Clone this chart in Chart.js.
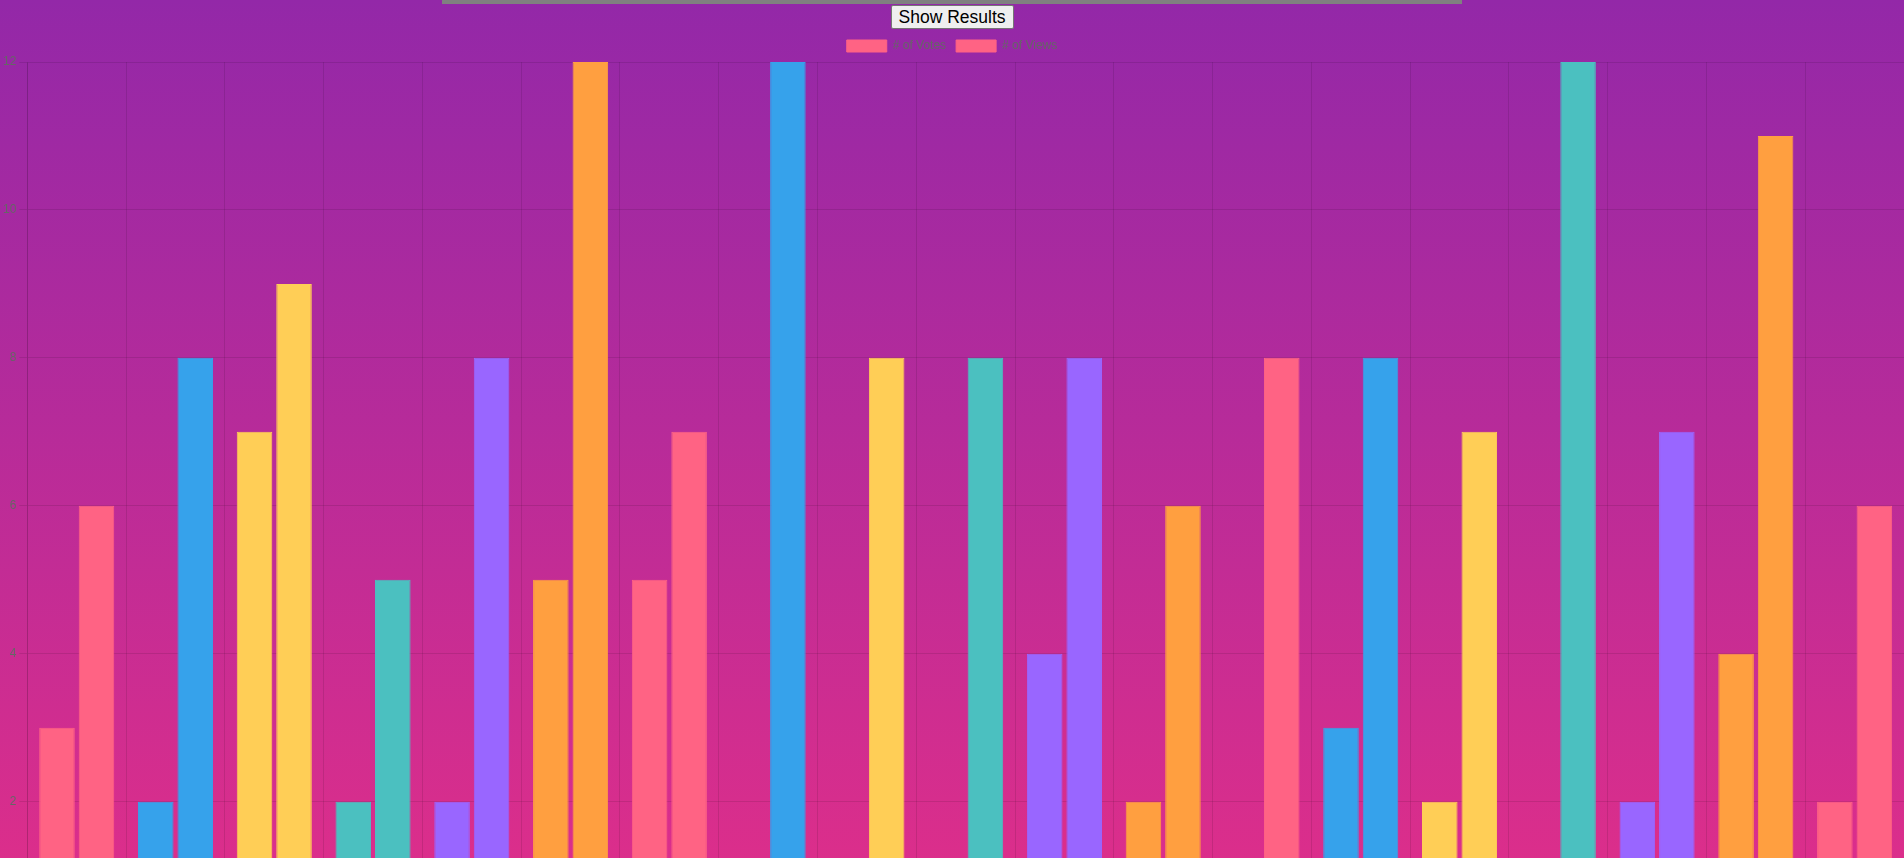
<!DOCTYPE html>
<html>
<head>
<meta charset="utf-8">
<script src="https://cdn.jsdelivr.net/npm/chart.js@4"></script>
<style>
  html, body { margin: 0; padding: 0; width: 1904px; height: 858px; overflow: hidden; }
  body { background: linear-gradient(to bottom, #9328a8 0px, #db2e8b 858px); font-family: "Liberation Sans", Arial, sans-serif; position: relative; }
  #topbar { position: absolute; left: 442px; top: 0; width: 1020px; height: 4px; background: #808080; }
  #btnwrap { position: absolute; left: 0; top: 5px; width: 1904px; text-align: center; }
  #btnwrap button { font-family: "Liberation Sans", Arial, sans-serif; font-size: 17.5px; padding: 1px 7px; height: 24px; line-height: 20px; background: #efefef; border: 1px solid #767676; border-radius: 2px; color: #000; }
  #wrap { position: absolute; left: 0; top: 30px; width: 1904px; height: 948px; }
</style>
</head>
<body>
<div id="topbar"></div>
<div id="btnwrap"><button>Show Results</button></div>
<div id="wrap"><canvas id="c"></canvas></div>
<script>
const categories = ["1","2","3","4","5","6","7","8","9","10","11","12","13","14","15","16","17","18","19"];
const votes = [3, 2, 7, 2, 2, 5, 5, 1, 1, 1, 4, 2, 1, 3, 2, 1, 2, 4, 2];
const views = [6, 8, 9, 5, 8, 12, 7, 12, 8, 8, 8, 6, 8, 8, 7, 12, 7, 11, 6];
const palette = ["#FF6384", "#36A2EB", "#FFCE56", "#4BC0C0", "#9966FF", "#FF9F40"];
const yTicks = [0, 2, 4, 6, 8, 10, 12];

const barColors = categories.map((_, i) => palette[i % palette.length]);

new Chart(document.getElementById('c'), {
  type: 'bar',
  data: {
    labels: categories,
    datasets: [
      { label: '# of Votes', data: votes, backgroundColor: barColors, borderColor: barColors, borderWidth: 1 },
      { label: '# of Views', data: views, backgroundColor: barColors, borderColor: barColors, borderWidth: 1 }
    ]
  },
  options: {
    responsive: true,
    maintainAspectRatio: false,
    animation: false,
    plugins: {
      legend: {
        labels: {
          color: '#666',
          generateLabels: (chart) => chart.data.datasets.map((ds, i) => ({
            text: ds.label, fillStyle: palette[0], strokeStyle: palette[0], lineWidth: 1,
            hidden: !chart.isDatasetVisible(i), datasetIndex: i, fontColor: '#666'
          }))
        }
      },
      tooltip: { enabled: false }
    },
    scales: {
      x: { grid: { color: 'rgba(0,0,0,0.1)' }, ticks: { color: '#666' } },
      y: {
        min: yTicks[0], max: yTicks[yTicks.length - 1],
        grid: { color: 'rgba(0,0,0,0.1)' },
        ticks: { color: '#666', stepSize: yTicks[1] - yTicks[0] }
      }
    }
  }
});
</script>
</body>
</html>
